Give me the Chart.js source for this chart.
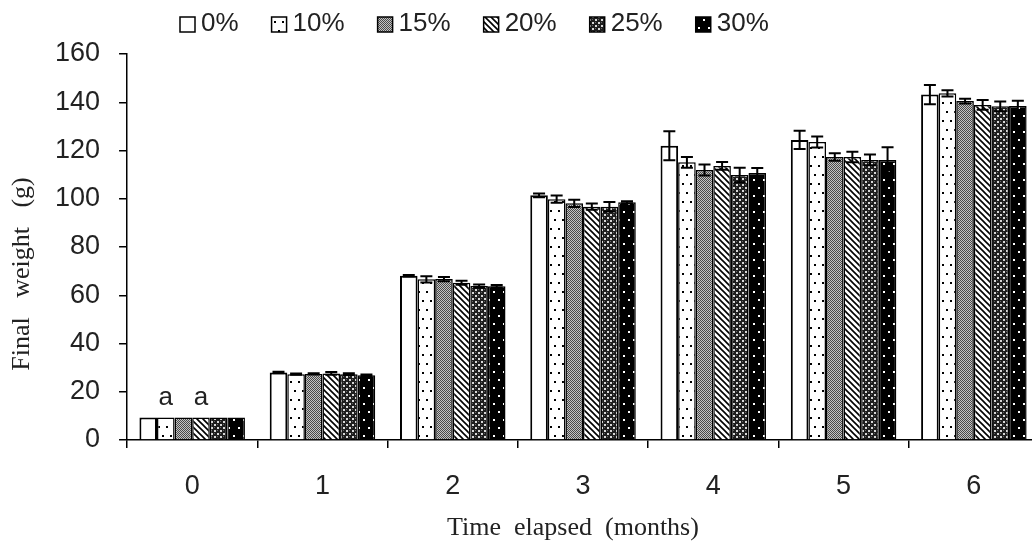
<!DOCTYPE html>
<html>
<head>
<meta charset="utf-8">
<script src="https://cdn.jsdelivr.net/npm/chart.js@4"></script>
<style>
  html, body { margin: 0; padding: 0; background: #fff; overflow: hidden; }
  canvas { display: block; }
</style>
</head>
<body>
<canvas id="chart" width="1039" height="549"></canvas>
<script>
// months on the x axis
const months = ['0', '1', '2', '3', '4', '5', '6'];
const seriesNames = ['0%', '10%', '15%', '20%', '25%', '30%'];

// mean final weight (g)
const w0  = [9.3, 28.0, 68.1, 101.4, 122.0, 124.4, 143.2];
const w10 = [9.3, 27.3, 66.6, 99.8, 115.1, 123.5, 143.7];
const w15 = [9.3, 27.4, 66.7, 98.1, 111.9, 117.3, 140.5];
const w20 = [9.3, 27.6, 65.2, 96.7, 113.6, 117.3, 138.9];
const w25 = [9.3, 27.3, 63.8, 96.7, 109.8, 116.1, 138.3];
const w30 = [9.3, 26.8, 63.7, 98.5, 110.7, 116.1, 138.4];

// standard error
const e0  = [0, 0.3, 0.3, 0.8, 6.0, 3.8, 4.0];
const e10 = [0, 0.3, 1.3, 1.5, 2.2, 2.3, 1.3];
const e15 = [0, 0.3, 0.9, 1.5, 2.3, 1.6, 1.0];
const e20 = [0, 0.6, 0.8, 1.3, 1.6, 2.2, 2.0];
const e25 = [0, 0.4, 0.7, 2.0, 3.0, 2.2, 2.0];
const e30 = [0, 0.3, 0.5, 0.5, 2.0, 5.2, 2.2];

// significance letters: [month index, series index, text]
const letters = [[0, 1, 'a'], [0, 3, 'a']];

const yTicks = [0, 20, 40, 60, 80, 100, 120, 140, 160];

const xTitle = 'Time  elapsed  (months)';
const yTitle = 'Final   weight   (g)';

const SANS = "'Liberation Sans', Arial, sans-serif";
const SERIF = "'Liberation Serif', 'Times New Roman', serif";
const INK = '#222';

function makePattern(w, h, draw) {
    const c = document.createElement('canvas');
    c.width = w;
    c.height = h;
    const g = c.getContext('2d');
    draw(g, w, h);
    return c.getContext('2d').createPattern(c, 'repeat');
}

const ctx = document.getElementById('chart').getContext('2d');

const fills = [
    '#ffffff',
    // white with sparse black dots
    makePattern(8, 18, (g, w, h) => {
        g.fillStyle = '#fff'; g.fillRect(0, 0, w, h);
        g.fillStyle = '#000';
        g.fillRect(2, 3, 2, 2);
        g.fillRect(6, 12, 2, 2);
    }),
    // fine grey dither
    makePattern(2, 2, (g) => {
        g.fillStyle = '#c4c4c4'; g.fillRect(0, 0, 2, 2);
        g.fillStyle = '#4a4a4a';
        g.fillRect(0, 0, 1, 1);
        g.fillRect(1, 1, 1, 1);
    }),
    // diagonal stripes
    makePattern(6, 6, (g, w, h) => {
        g.fillStyle = '#fff'; g.fillRect(0, 0, w, h);
        g.strokeStyle = '#000';
        g.lineWidth = 1.6;
        g.beginPath();
        g.moveTo(-1, -1); g.lineTo(w + 1, h + 1);
        g.moveTo(-1, h - 1); g.lineTo(1, h + 1);
        g.moveTo(w - 1, -1); g.lineTo(w + 1, 1);
        g.stroke();
    }),
    // dark cross-hatch with light dots
    makePattern(6, 6, (g, w, h) => {
        g.fillStyle = '#1e1e1e'; g.fillRect(0, 0, w, h);
        g.fillStyle = '#d8d8d8';
        g.fillRect(1, 1, 2, 2);
        g.fillRect(4, 4, 2, 2);
        g.fillStyle = '#666';
        g.fillRect(4, 1, 1, 1);
        g.fillRect(1, 4, 1, 1);
    }),
    // black with sparse white dots
    makePattern(10, 16, (g, w, h) => {
        g.fillStyle = '#000'; g.fillRect(0, 0, w, h);
        g.fillStyle = '#fff';
        g.fillRect(3, 3, 2, 2);
        g.fillRect(8, 11, 2, 2);
    })
];

const values = [w0, w10, w15, w20, w25, w30];
const errors = [e0, e10, e15, e20, e25, e30];

const datasets = seriesNames.map((name, i) => ({
    label: name,
    data: values[i],
    errors: errors[i],
    backgroundColor: fills[i],
    borderColor: '#000',
    borderWidth: i === 0 ? 2 : 1.5,
    borderSkipped: 'bottom',
    categoryPercentage: 0.81,
    barPercentage: 1.0
}));

// error bars drawn from the bar elements and the y scale
const errorBars = {
    id: 'errorBars',
    afterDatasetsDraw(chart) {
        const c = chart.ctx;
        const y = chart.scales.y;
        c.save();
        c.strokeStyle = '#000';
        c.lineWidth = 2;
        chart.data.datasets.forEach((ds, i) => {
            chart.getDatasetMeta(i).data.forEach((bar, j) => {
                const e = ds.errors[j];
                if (!e) return;
                const top = y.getPixelForValue(ds.data[j] + e);
                const bot = y.getPixelForValue(ds.data[j] - e);
                c.beginPath();
                c.moveTo(bar.x, top); c.lineTo(bar.x, bot);
                c.moveTo(bar.x - 6, top); c.lineTo(bar.x + 6, top);
                c.moveTo(bar.x - 6, bot); c.lineTo(bar.x + 6, bot);
                c.stroke();
            });
        });
        c.restore();
    }
};

// letters above bars
const letterMarks = {
    id: 'letterMarks',
    afterDatasetsDraw(chart) {
        const c = chart.ctx;
        c.save();
        c.fillStyle = INK;
        c.font = '26px ' + SANS;
        c.textAlign = 'center';
        c.textBaseline = 'middle';
        letters.forEach(([j, i, text]) => {
            const bar = chart.getDatasetMeta(i).data[j];
            c.fillText(text, bar.x, bar.y - 20);
        });
        c.restore();
    }
};

// legend row along the top and the two axis titles
const decorations = {
    id: 'decorations',
    afterDraw(chart) {
        const c = chart.ctx;
        c.save();
        c.font = '26px ' + SANS;
        c.textBaseline = 'middle';
        let x = 180;
        const cy = 24;
        chart.data.datasets.forEach((ds) => {
            c.fillStyle = ds.backgroundColor;
            c.fillRect(x, cy - 7, 15, 15);
            c.strokeStyle = '#000';
            c.lineWidth = 1.5;
            c.strokeRect(x, cy - 7, 15, 15);
            c.fillStyle = INK;
            c.fillText(ds.label, x + 21, cy);
            x += 21 + c.measureText(ds.label).width + 33;
        });

        c.font = '26px ' + SERIF;
        c.fillStyle = INK;
        c.textAlign = 'center';
        c.fillText(xTitle, 573, 528);

        c.translate(22, 274);
        c.rotate(-Math.PI / 2);
        c.fillText(yTitle, 0, 0);
        c.restore();
    }
};

new Chart(ctx, {
    type: 'bar',
    data: { labels: months, datasets: datasets },
    plugins: [errorBars, letterMarks, decorations],
    options: {
        responsive: false,
        animation: false,
        layout: { padding: { top: 54, left: 36, right: 0, bottom: 24 } },
        plugins: {
            legend: { display: false },
            tooltip: { enabled: false }
        },
        scales: {
            x: {
                grid: { display: true, drawOnChartArea: false, offset: true, tickLength: 8, color: '#000', lineWidth: 1.5 },
                border: { display: true, color: '#000', width: 1.5 },
                ticks: { color: INK, font: { family: SANS, size: 27, lineHeight: 1.0 }, padding: 25, maxRotation: 0 }
            },
            y: {
                min: 0,
                max: 160,
                afterBuildTicks: (axis) => { axis.ticks = yTicks.map(v => ({ value: v })); },
                grid: { display: true, drawOnChartArea: false, tickLength: 8, color: '#000', lineWidth: 1.5 },
                border: { display: true, color: '#000', width: 1.5 },
                ticks: { color: INK, font: { family: SANS, size: 27 }, padding: 19 }
            }
        }
    }
});
</script>
</body>
</html>
